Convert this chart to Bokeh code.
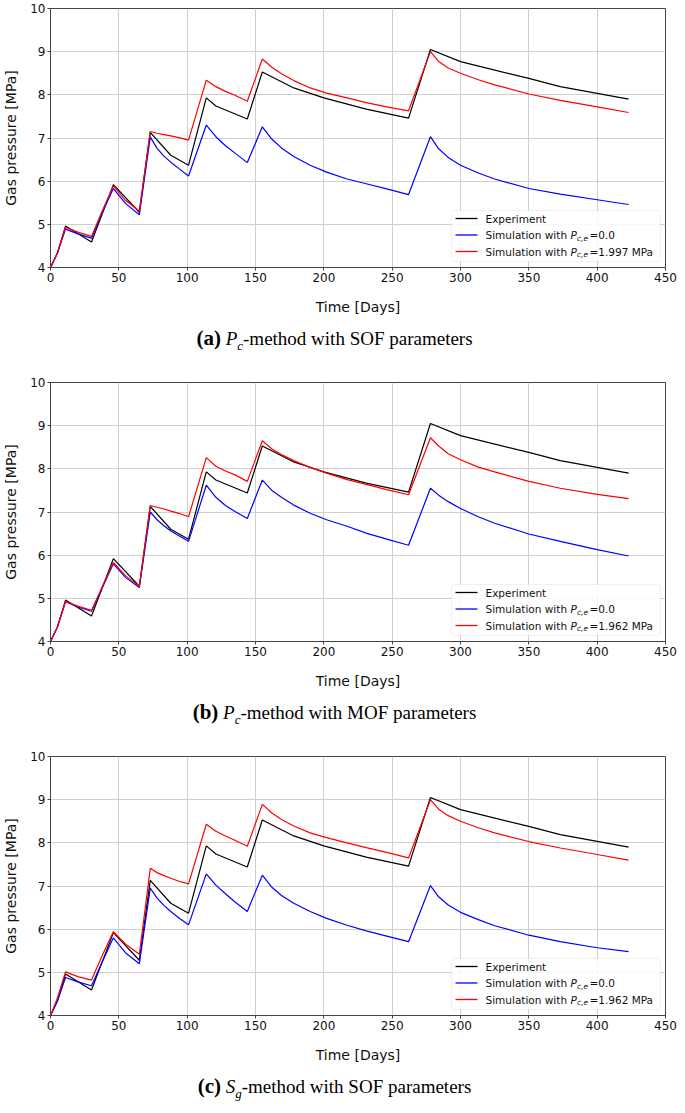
from bokeh.plotting import figure
from bokeh.models import Range1d, FixedTicker, BoxAnnotation, Label, Div
from bokeh.layouts import column
from bokeh.embed import file_html
from bokeh.resources import INLINE

# ---------------- data ----------------
t_exp = [0, 5, 11, 30, 46, 65, 73, 88, 101, 114, 121, 144, 155, 178, 200, 231, 262,
         278, 300, 350, 373, 397, 423]
p_exp = [4.0, 4.33, 4.96, 4.59, 5.92, 5.28, 7.13, 6.60, 6.37, 7.93, 7.74, 7.44, 8.53,
         8.16, 7.93, 7.67, 7.46, 9.05, 8.77, 8.38, 8.19, 8.05, 7.90]

t_sim = [0, 5, 11, 20, 30, 38, 46, 55, 65, 73, 78, 83, 88, 94, 101, 114, 121, 128, 135,
         144, 155, 162, 169, 178, 190, 202, 217, 231, 246, 262, 278, 284, 291, 300, 313,
         325, 350, 373, 400, 423]

a_blue = [4.0, 4.33, 4.89, 4.78, 4.68, 5.28, 5.83, 5.48, 5.22, 7.02, 6.76, 6.58, 6.44,
          6.29, 6.12, 7.30, 7.03, 6.82, 6.65, 6.43, 7.26, 6.97, 6.77, 6.57, 6.37, 6.21,
          6.05, 5.94, 5.82, 5.69, 7.03, 6.75, 6.55, 6.37, 6.19, 6.05, 5.83, 5.70, 5.57,
          5.46]
a_red = [4.0, 4.33, 4.93, 4.82, 4.72, 5.32, 5.89, 5.55, 5.31, 7.15, 7.11, 7.08, 7.05,
         7.01, 6.95, 8.34, 8.19, 8.08, 7.99, 7.85, 8.83, 8.64, 8.49, 8.33, 8.16, 8.04,
         7.93, 7.82, 7.72, 7.63, 9.00, 8.77, 8.62, 8.50, 8.35, 8.23, 8.02, 7.87, 7.72,
         7.59]

b_blue = [4.0, 4.33, 4.92, 4.80, 4.70, 5.25, 5.80, 5.48, 5.25, 7.00, 6.82, 6.68, 6.56,
          6.45, 6.32, 7.62, 7.34, 7.15, 7.01, 6.85, 7.74, 7.50, 7.34, 7.16, 6.97, 6.82,
          6.67, 6.51, 6.37, 6.23, 7.55, 7.39, 7.24, 7.08, 6.89, 6.74, 6.49, 6.32, 6.13,
          5.98]
b_red = [4.0, 4.33, 4.93, 4.82, 4.72, 5.28, 5.83, 5.52, 5.28, 7.15, 7.11, 7.07, 7.02,
         6.97, 6.89, 8.26, 8.06, 7.95, 7.86, 7.71, 8.65, 8.46, 8.33, 8.19, 8.03, 7.90,
         7.75, 7.64, 7.52, 7.40, 8.72, 8.53, 8.35, 8.21, 8.04, 7.93, 7.71, 7.55, 7.41,
         7.31]

c_blue = [4.0, 4.33, 4.88, 4.78, 4.69, 5.25, 5.80, 5.45, 5.20, 6.95, 6.72, 6.55, 6.41,
          6.26, 6.10, 7.28, 7.02, 6.82, 6.63, 6.41, 7.25, 6.97, 6.78, 6.60, 6.41, 6.25,
          6.09, 5.96, 5.84, 5.71, 7.01, 6.75, 6.56, 6.39, 6.22, 6.08, 5.86, 5.71, 5.57,
          5.48]
c_red = [4.0, 4.40, 5.01, 4.90, 4.82, 5.40, 5.94, 5.65, 5.42, 7.41, 7.31, 7.24, 7.18,
         7.11, 7.05, 8.43, 8.27, 8.16, 8.06, 7.92, 8.89, 8.69, 8.54, 8.39, 8.23, 8.12,
         8.00, 7.89, 7.78, 7.65, 9.00, 8.78, 8.63, 8.50, 8.35, 8.23, 8.03, 7.88, 7.73,
         7.60]

pce_values = ["1.997", "1.962", "1.962"]
panel_letters = ["(a)", "(b)", "(c)"]
caption_symbols = [("P", "c"), ("P", "c"), ("S", "g")]
caption_params = ["SOF", "MOF", "SOF"]

x_ticks = [0, 50, 100, 150, 200, 250, 300, 350, 400, 450]
y_ticks = [4, 5, 6, 7, 8, 9, 10]

# ---------------- layout constants ----------------
FW, FH = 615, 259
BL, BR, BT, BB = 42, 12, 8, 47
XMIN, XMAX, YMIN, YMAX = 0, 450, 4, 10
DX = (XMAX - XMIN) / FW
DY = (YMAX - YMIN) / FH
FONT = "DejaVu Sans"


def make_panel(blue, red, pce):
    p = figure(frame_width=FW, frame_height=FH,
               min_border_left=BL, min_border_right=BR,
               min_border_top=BT, min_border_bottom=BB,
               x_range=Range1d(XMIN, XMAX), y_range=Range1d(YMIN, YMAX),
               output_backend="svg", toolbar_location=None,
               background_fill_color="white", border_fill_color="white")
    p.outline_line_color = "#444444"
    p.outline_line_width = 1
    for ax, ticks in ((p.xaxis, x_ticks), (p.yaxis, y_ticks)):
        ax.ticker = FixedTicker(ticks=ticks)
        ax.axis_line_color = "#444444"
        ax.major_tick_line_color = "#444444"
        ax.major_tick_out = 3
        ax.major_tick_in = 0
        ax.minor_tick_line_color = None
        ax.major_label_text_font = FONT
        ax.major_label_text_font_size = "12px"
        ax.major_label_text_color = "#111111"
        ax.major_label_standoff = 2
        ax.axis_label_text_font = FONT
        ax.axis_label_text_font_size = "14px"
        ax.axis_label_text_font_style = "normal"
        ax.axis_label_text_color = "#111111"
    p.xaxis.axis_label = "Time [Days]"
    p.yaxis.axis_label = "Gas pressure [MPa]"
    p.xaxis.axis_label_standoff = 14
    p.yaxis.axis_label_standoff = 8
    p.grid.grid_line_color = "#cfcfcf"
    p.grid.grid_line_width = 1

    p.line(t_exp, p_exp, line_color="black", line_width=1.2)
    p.line(t_sim, blue, line_color="#0000ff", line_width=1.2)
    p.line(t_sim, red, line_color="#ff0000", line_width=1.2)

    # legend (matplotlib style, lower right)
    right = XMAX - 5 * DX
    left = right - 209 * DX
    bottom = YMIN + 6 * DY
    top = bottom + 51 * DY
    p.add_layout(BoxAnnotation(left=left, right=right, bottom=bottom, top=top,
                               fill_color="white", fill_alpha=0.85,
                               line_color="#cccccc", line_width=1,
                               border_radius=3, level="annotation"))
    rows = [top - 8 * DY, top - 24.5 * DY, top - 41 * DY]
    colors = ["black", "#0000ff", "#ff0000"]
    p.segment(x0=[left + 4 * DX] * 3, y0=rows, x1=[left + 26 * DX] * 3, y1=rows,
              line_color=colors, line_width=1.3, level="overlay")
    tx = left + 34 * DX
    fs = "10.5px"

    def lab(text, y, xoff=0, size=fs, style="normal"):
        p.add_layout(Label(x=tx, y=y, x_offset=xoff, text=text, text_font=FONT,
                           text_font_size=size, text_font_style=style,
                           text_baseline="middle", text_color="#111111",
                           level="overlay"))

    lab("Experiment", rows[0])
    for y, val in ((rows[1], "0.0"), (rows[2], pce + " MPa")):
        lab("Simulation with ", y)
        lab("P", y, 85, style="italic")
        lab("c,e", y - 3 * DY, 91.5, size="7.5px", style="italic")
        lab("=" + val, y, 104)
    return p


def make_caption(letter, sym, params, h):
    main, sub = sym
    html = ("<div style=\"width:669px;text-align:center;font-family:'Liberation Serif',serif;"
            "font-size:19px;line-height:30px;padding-top:6px;color:#000;\">"
            "<b style=\"font-size:21px\">%s</b> <i>%s</i><sub style=\"font-size:13px;"
            "line-height:0\"><i>%s</i></sub>-method with %s parameters</div>"
            % (letter, main, sub, params))
    return Div(text=html, width=669, height=h, margin=0)


series = [(a_blue, a_red), (b_blue, b_red), (c_blue, c_red)]
items = []
for i, (bl, rd) in enumerate(series):
    items.append(make_panel(bl, rd, pce_values[i]))
    items.append(make_caption(panel_letters[i], caption_symbols[i], caption_params[i],
                              57 if i < 2 else 36))

layout = column(*items, spacing=0)
open("out.html", "w").write(file_html(layout, INLINE))
